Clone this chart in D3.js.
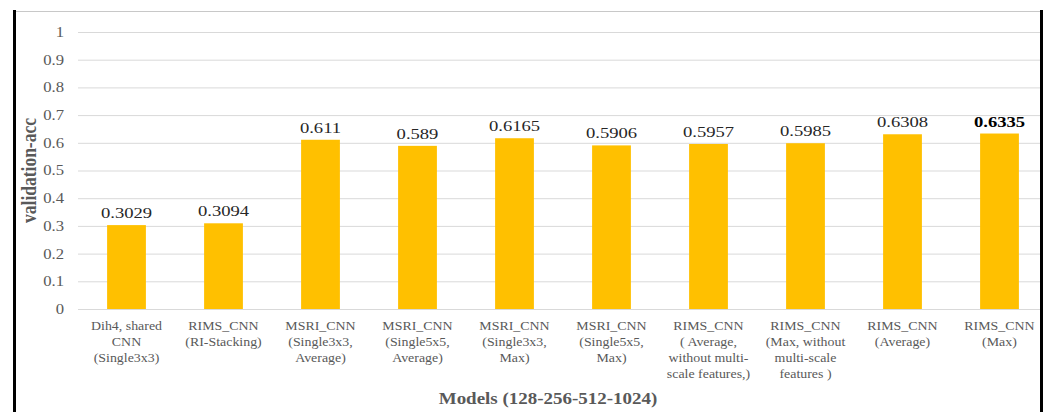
<!DOCTYPE html>
<html>
<head>
<meta charset="utf-8">
<script src="https://cdn.jsdelivr.net/npm/d3@7"></script>
<style>
  html, body { margin: 0; padding: 0; background: #fff; }
  svg { display: block; }
</style>
</head>
<body>
<svg id="chart" width="1048" height="412" font-family="'Liberation Serif', 'Times New Roman', 'DejaVu Serif', serif"></svg>
<script>
// Model names, one entry per line of the category label
const categories = [
  ["Dih4, shared", "CNN", "(Single3x3)"],
  ["RIMS_CNN", "(RI-Stacking)"],
  ["MSRI_CNN", "(Single3x3,", "Average)"],
  ["MSRI_CNN", "(Single5x5,", "Average)"],
  ["MSRI_CNN", "(Single3x3,", "Max)"],
  ["MSRI_CNN", "(Single5x5,", "Max)"],
  ["RIMS_CNN", "( Average,", "without multi-", "scale features,)"],
  ["RIMS_CNN", "(Max, without", "multi-scale", "features )"],
  ["RIMS_CNN", "(Average)"],
  ["RIMS_CNN", "(Max)"]
];
const values = [0.3029, 0.3094, 0.611, 0.589, 0.6165, 0.5906, 0.5957, 0.5985, 0.6308, 0.6335];
const valueLabels = ["0.3029", "0.3094", "0.611", "0.589", "0.6165", "0.5906", "0.5957", "0.5985", "0.6308", "0.6335"];
const yTicks = [0, 0.1, 0.2, 0.3, 0.4, 0.5, 0.6, 0.7, 0.8, 0.9, 1];
const yTickLabels = ["0", "0.1", "0.2", "0.3", "0.4", "0.5", "0.6", "0.7", "0.8", "0.9", "1"];
const xTitle = "Models (128-256-512-1024)";
const yTitle = "validation-acc";

const FONT = "'Liberation Serif', 'Times New Roman', 'DejaVu Serif', serif";
const svg = d3.select("#chart");
const W = 1048, H = 412;
const plotLeft = 78, plotRight = 1048, clipRight = 1040;
const plotTop = 32, plotBottom = 309;
const SX = 1.15; // glyphs are drawn slightly wide

const x = d3.scaleBand()
  .domain(d3.range(categories.length))
  .range([plotLeft, plotRight])
  .paddingInner(0.6)
  .paddingOuter(0.3);

const y = d3.scaleLinear().domain([0, 1]).range([plotBottom, plotTop]);

// place a text whose glyphs are stretched horizontally around its anchor
function wideText(parent, tx, ty, str, opts) {
  const t = parent.append("text")
    .attr("transform", `translate(${tx},${ty}) scale(${opts.sx || SX},1)`)
    .attr("text-anchor", opts.anchor || "middle")
    .attr("font-family", FONT)
    .attr("font-size", opts.size)
    .attr("font-weight", opts.weight || "normal")
    .attr("fill", opts.fill || "#595959")
    .text(str);
  if (opts.dy) t.attr("dy", opts.dy);
  return t;
}

// gridlines
const grid = svg.append("g")
  .attr("transform", `translate(${plotLeft},0)`)
  .call(d3.axisLeft(y).tickValues(yTicks).tickSize(-(clipRight - plotLeft)).tickFormat(""));
grid.select(".domain").remove();
grid.selectAll(".tick line").attr("stroke", "#d9d9d9").attr("stroke-width", 1);

// y tick labels
const tickG = svg.append("g");
yTicks.forEach((v, i) => {
  wideText(tickG, plotLeft - 14, y(v), yTickLabels[i], { anchor: "end", size: 14.5, dy: "0.34em" });
});

// bars
svg.append("g").selectAll("rect")
  .data(values)
  .join("rect")
  .attr("x", (d, i) => x(i))
  .attr("y", d => y(d))
  .attr("width", x.bandwidth())
  .attr("height", d => y(0) - y(d))
  .attr("fill", "#FFC000");

// value labels
const valG = svg.append("g");
values.forEach((v, i) => {
  const last = i === values.length - 1;
  wideText(valG, x(i) + x.bandwidth() / 2, y(v) - 7, valueLabels[i], {
    size: 15.5, sx: 1.2, fill: last ? "#000" : "#262626", weight: last ? "bold" : "normal"
  });
});

// category labels
const catG = svg.append("g");
categories.forEach((lines, i) => {
  lines.forEach((ln, j) => {
    wideText(catG, x(i) + x.bandwidth() / 2, 330 + j * 16, ln, { size: 12.2, sx: 1.14 });
  });
});

// axis titles
wideText(svg, 548, 404, xTitle, { size: 16.5, weight: "bold" });
svg.append("text")
  .attr("transform", `translate(36,${(plotTop + plotBottom) / 2}) rotate(-90) scale(1,1.15)`)
  .attr("text-anchor", "middle")
  .attr("font-family", FONT)
  .attr("font-size", 17.5)
  .attr("font-weight", "bold")
  .attr("fill", "#595959")
  .text(yTitle);

// frame
svg.append("line").attr("x1", 14).attr("x2", 1041).attr("y1", 11.5).attr("y2", 11.5)
  .attr("stroke", "#c8c8c8").attr("stroke-width", 1);
svg.append("line").attr("x1", 14.5).attr("x2", 14.5).attr("y1", 10).attr("y2", H)
  .attr("stroke", "#000").attr("stroke-width", 3);
svg.append("line").attr("x1", 1041.5).attr("x2", 1041.5).attr("y1", 10).attr("y2", H)
  .attr("stroke", "#000").attr("stroke-width", 3);
</script>
</body>
</html>
